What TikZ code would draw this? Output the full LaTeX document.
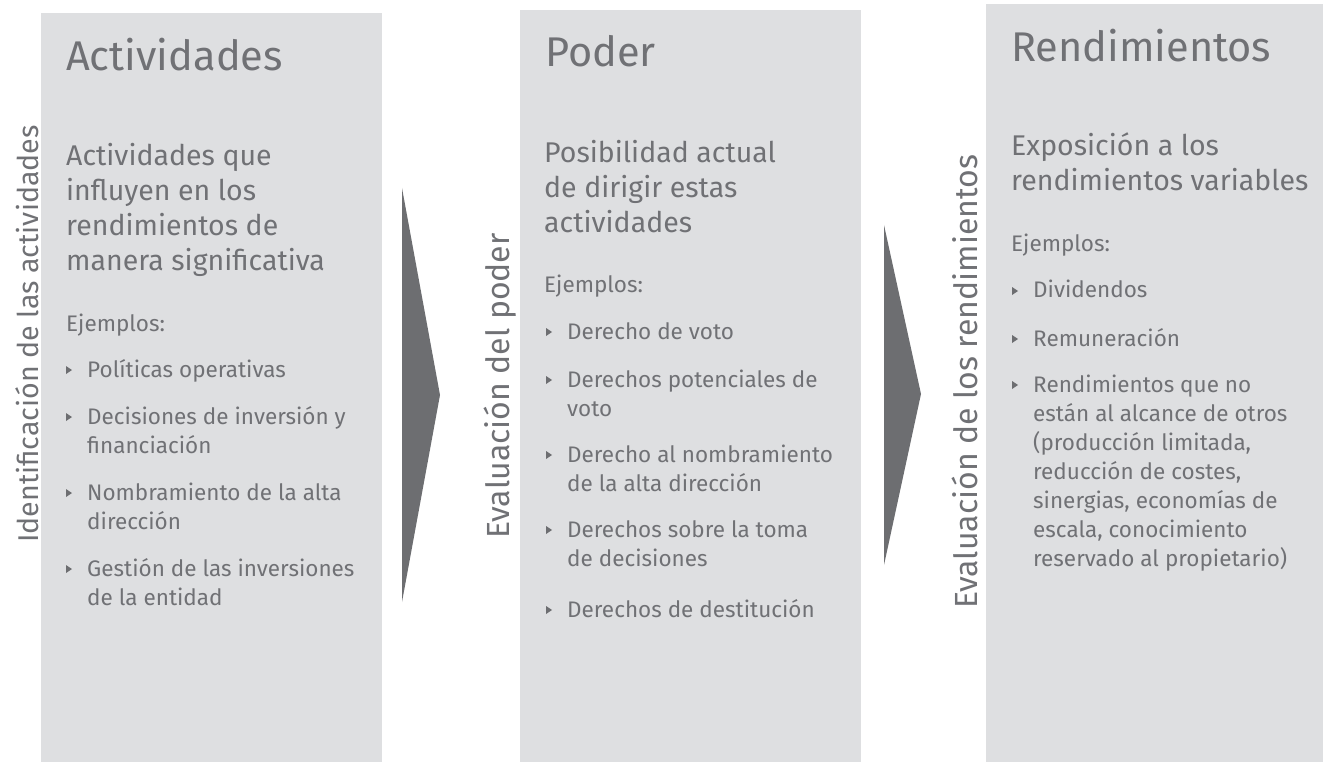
\documentclass[tikz,border=0pt]{standalone}
\usepackage{fontspec}
\setmainfont{Fira Sans}
\definecolor{boxgray}{HTML}{DEDFE1}
\definecolor{txtgray}{HTML}{707175}
\definecolor{arrgray}{HTML}{6D6E71}
\tikzset{
  panel/.style={fill=boxgray, draw=none},
  chevron/.style={fill=arrgray, draw=none},
  ttl/.style={anchor=base west, inner sep=0, text=txtgray, font=\fontsize{41.5}{50}\selectfont},
  sub/.style={anchor=base west, inner sep=0, text=txtgray, font=\fontsize{28.5}{35}\selectfont},
  body/.style={anchor=base west, inner sep=0, text=txtgray, font=\fontsize{22.5}{29}\selectfont},
  side/.style={anchor=base, inner sep=0, rotate=90, text=txtgray, font=\fontsize{32}{36}\selectfont},
}
\newcommand\multl[1]{\parbox[t]{400pt}{\raggedright #1}}
\newcommand\bitem[4]{%
  \node[body] (#1) at (#2,#3) {\multl{#4}};
  \fill[arrgray] (#1.base west) ++(-21,-11) -- ++(6,4) -- ++(-6,4) -- cycle;
}
\begin{document}
\begin{tikzpicture}[x=1pt,y=-1pt]
\useasboundingbox (0,0) rectangle (1323,762);
% panels
\fill[panel] (41,13) rectangle (382,762);
\fill[panel] (520,10) rectangle (861,762);
\fill[panel] (986,4) rectangle (1323,762);
% chevrons
\fill[chevron] (402,188) -- (440,395) -- (402,602) -- cycle;
\fill[chevron] (884,225) -- (921,394) -- (884,565) -- cycle;
% side labels
\node[side, font=\fontsize{28.6}{36}\selectfont] (s1) at (38,334) {Identificación de las actividades};
\node[side] (s2) at (509,386) {Evaluación del poder};
\node[side] (s3) at (977,382) {Evaluación de los rendimientos};
% box 1
\node[ttl] (t1) at (66,71) {Actividades};
\node[sub] (d1) at (66,166) {\multl{Actividades que\\influyen en los\\rendimientos de\\manera significativa}};
\node[body] (e1) at (66,331) {Ejemplos:};
\bitem{a1}{87}{377}{Políticas operativas}
\bitem{a2}{87}{424}{Decisiones de inversión y\\financiación}
\bitem{a3}{87}{500}{Nombramiento de la alta\\dirección}
\bitem{a4}{87}{576}{Gestión de las inversiones\\de la entidad}
% box 2
\node[ttl] (t2) at (545,67) {Poder};
\node[sub] (d2) at (544,163) {\multl{Posibilidad actual\\de dirigir estas\\actividades}};
\node[body] (e2) at (544,292) {Ejemplos:};
\bitem{b1}{567}{339}{Derecho de voto}
\bitem{b2}{567}{387}{Derechos potenciales de\\voto}
\bitem{b3}{567}{462}{Derecho al nombramiento\\de la alta dirección}
\bitem{b4}{567}{537}{Derechos sobre la toma\\de decisiones}
\bitem{b5}{567}{617}{Derechos de destitución}
% box 3
\node[ttl] (t3) at (1011,62) {Rendimientos};
\node[sub] (d3) at (1011,156) {\multl{Exposición a los\\rendimientos variables}};
\node[body] (e3) at (1011,252) {Ejemplos:};
\bitem{c1}{1033}{298}{Dividendos}
\bitem{c2}{1033}{346}{Remuneración}
\bitem{c3}{1033}{392}{Rendimientos que no\\están al alcance de otros\\(producción limitada,\\reducción de costes,\\sinergias, economías de\\escala, conocimiento\\reservado al propietario)}
\end{tikzpicture}
\end{document}
